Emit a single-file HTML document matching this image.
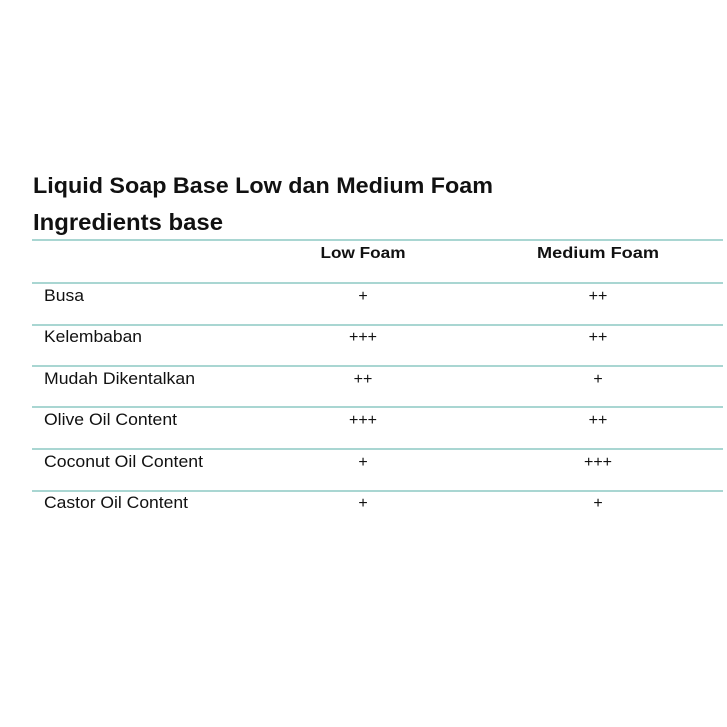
<!DOCTYPE html>
<html><head><style>body{margin:0;background:#fff}svg{display:block}</style></head>
<body>
<svg width="727" height="727" xmlns="http://www.w3.org/2000/svg">
<rect width="727" height="727" fill="#fff"/>
<g font-family="Liberation Sans, sans-serif" font-weight="bold" fill="#111">
<text x="33" y="193" font-size="22" textLength="460" lengthAdjust="spacingAndGlyphs">Liquid Soap Base Low dan Medium Foam</text>
<text x="33" y="230" font-size="23" textLength="190" lengthAdjust="spacingAndGlyphs">Ingredients base</text>
<text x="363" y="258" font-size="16" text-anchor="middle" textLength="85" lengthAdjust="spacingAndGlyphs">Low Foam</text>
<text x="598" y="258" font-size="16" text-anchor="middle" textLength="122" lengthAdjust="spacingAndGlyphs">Medium Foam</text>
</g>
<g stroke="#a9d6d2" stroke-width="2">
<line x1="32" x2="723" y1="240" y2="240"/>
<line x1="32" x2="723" y1="283" y2="283"/>
<line x1="32" x2="723" y1="325" y2="325"/>
<line x1="32" x2="723" y1="366" y2="366"/>
<line x1="32" x2="723" y1="407" y2="407"/>
<line x1="32" x2="723" y1="449" y2="449"/>
<line x1="32" x2="723" y1="491" y2="491"/>
</g>
<g font-family="Liberation Sans, sans-serif" font-size="17" fill="#111">
<text x="44" y="301" textLength="40" lengthAdjust="spacingAndGlyphs">Busa</text>
<text x="44" y="342" textLength="98" lengthAdjust="spacingAndGlyphs">Kelembaban</text>
<text x="44" y="384" textLength="151" lengthAdjust="spacingAndGlyphs">Mudah Dikentalkan</text>
<text x="44" y="425" textLength="133" lengthAdjust="spacingAndGlyphs">Olive Oil Content</text>
<text x="44" y="467" textLength="159" lengthAdjust="spacingAndGlyphs">Coconut Oil Content</text>
<text x="44" y="508" textLength="144" lengthAdjust="spacingAndGlyphs">Castor Oil Content</text>
<g text-anchor="middle" font-size="16">
<text x="363" y="301">+</text><text x="598" y="301">++</text>
<text x="363" y="342">+++</text><text x="598" y="342">++</text>
<text x="363" y="384">++</text><text x="598" y="384">+</text>
<text x="363" y="425">+++</text><text x="598" y="425">++</text>
<text x="363" y="467">+</text><text x="598" y="467">+++</text>
<text x="363" y="508">+</text><text x="598" y="508">+</text>
</g>
</g>
</svg>
</body></html>
